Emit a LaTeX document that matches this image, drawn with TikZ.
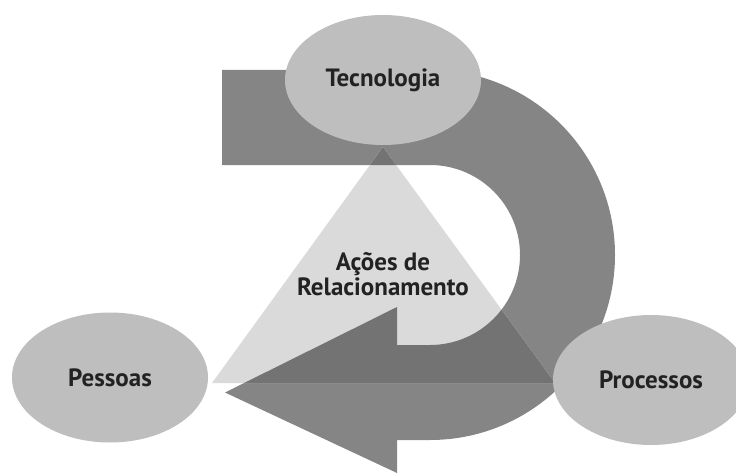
\documentclass[tikz,border=0pt]{standalone}
\usepackage{fontspec}
\setmainfont{PT Sans}
\usetikzlibrary{shapes.geometric}
\definecolor{ellgray}{RGB}{190,190,190}
\definecolor{arrowgray}{RGB}{133,133,133}
\definecolor{trigray}{RGB}{218,218,218}
\definecolor{overgray}{RGB}{115,115,115}
\definecolor{txt}{RGB}{34,34,34}
\begin{document}
\begin{tikzpicture}[x=1pt,y=1pt,
  ellnode/.style={ellipse, fill=ellgray, minimum width=196pt, minimum height=130pt, inner sep=0pt, text=txt, font=\bfseries\fontsize{25}{28}\selectfont},
  lbl/.style={text=txt, font=\bfseries\fontsize{25}{25}\selectfont, align=center}]
\useasboundingbox (0,0) rectangle (736,475);
\clip (0,0) rectangle (736,475);
\def\arrowpath{(222,405) -- (430,405) arc[start angle=90, end angle=-90, radius=185] -- (397,35) -- (397,2) -- (225,82.5) -- (397,168) -- (397,130) -- (430,130) arc[start angle=-90, end angle=90, radius=90] -- (222,310) -- cycle}
\def\tripath{(383,328) -- (212,92) -- (555,92) -- cycle}
\fill[arrowgray] \arrowpath;
\fill[trigray] \tripath;
\begin{scope}
  \clip \tripath;
  \fill[overgray] \arrowpath;
\end{scope}
\node[ellnode] (tec) at (383,395) {Tecnologia};
\node[ellnode] (pes) at (110,97.5) {Pessoas};
\node[ellnode] (pro) at (651,95) {Processos};
\node[lbl] (acoes) at (383,201) {Ações de\\Relacionamento};
\end{tikzpicture}
\end{document}
